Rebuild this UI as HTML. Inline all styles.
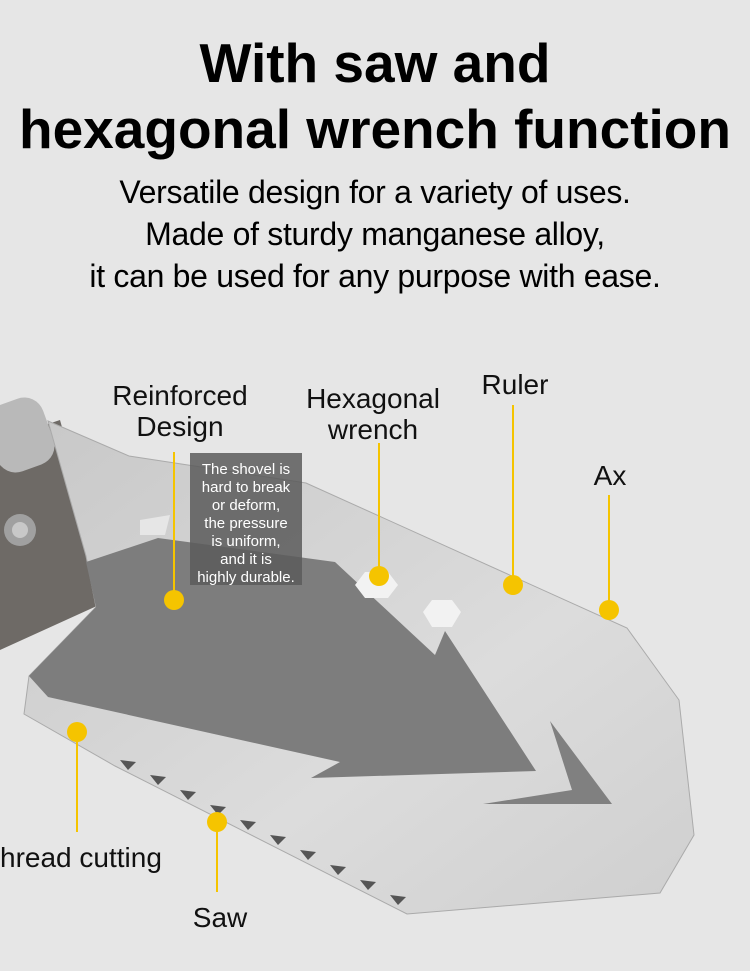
<!DOCTYPE html>
<html><head><meta charset="utf-8"><style>
body{margin:0;width:750px;height:971px;background:#e6e6e6;overflow:hidden;font-family:"Liberation Sans",sans-serif;position:relative}
.t{position:absolute;left:0;width:750px;text-align:center;color:#000;white-space:nowrap}
.l{position:absolute;font-size:28px;color:#111;text-align:center;line-height:31px;white-space:nowrap}
</style></head><body>
<div class="t" style="top:30px;font-size:55px;font-weight:bold;line-height:66px">With saw and<br>hexagonal wrench function</div>
<div class="t" style="top:171px;font-size:32px;line-height:42px;letter-spacing:-0.3px">Versatile design for a variety of uses.<br>Made of sturdy manganese alloy,<br>it can be used for any purpose with ease.</div>
<svg width="750" height="971" style="position:absolute;left:0;top:0">
<defs><linearGradient id="g" x1="0" y1="0" x2="1" y2="1"><stop offset="0" stop-color="#c8c8c8"/><stop offset=".6" stop-color="#dcdcdc"/><stop offset="1" stop-color="#cfcfcf"/></linearGradient></defs>
<polygon points="0,440 60,420 110,600 0,650" fill="#6e6a66"/>
<rect x="-10" y="400" width="60" height="70" rx="20" fill="#b9b9b9" transform="rotate(-20 20 435)"/>
<polygon points="48,421 129,456 306,483 627,628 679,700 694,835 660,893 407,914 115,766 24,714 29,676 96,607 86,556" fill="url(#g)" stroke="#aaa"/>
<polygon points="86,562 158,538 335,562 435,655 445,631 536,771 311,778 340,762 48,697 29,676 96,607" fill="#7d7d7d"/>
<polygon points="550,721 612,804 483,804 572,790" fill="#808080"/>
<polygon points="140,520 170,515 165,535 140,535" fill="#e6e6e6"/>
<polygon points="355,585 365,572 388,572 398,585 388,598 365,598" fill="#f2f2f2"/>
<polygon points="423,612 432,600 452,600 461,612 452,627 432,627" fill="#f2f2f2"/>
<circle cx="20" cy="530" r="16" fill="#a0a0a0"/><circle cx="20" cy="530" r="8" fill="#c8c8c8"/>
<g fill="#555">
<polygon points="120,760 128,770 136,762"/><polygon points="150,775 158,785 166,777"/><polygon points="180,790 188,800 196,792"/><polygon points="210,805 218,815 226,807"/><polygon points="240,820 248,830 256,822"/><polygon points="270,835 278,845 286,837"/><polygon points="300,850 308,860 316,852"/><polygon points="330,865 338,875 346,867"/><polygon points="360,880 368,890 376,882"/><polygon points="390,895 398,905 406,897"/>
</g>
<rect x="190" y="453" width="112" height="132" fill="#5a5a5a" opacity=".85"/>
<text fill="#fff" font-size="15" text-anchor="middle" font-family="Liberation Sans">
<tspan x="246" y="474">The shovel is</tspan><tspan x="246" y="492">hard to break</tspan><tspan x="246" y="510">or deform,</tspan><tspan x="246" y="528">the pressure</tspan><tspan x="246" y="546">is uniform,</tspan><tspan x="246" y="564">and it is</tspan><tspan x="246" y="582">highly durable.</tspan></text>
<g stroke="#f5c400" stroke-width="2"><line x1="174" y1="452" x2="174" y2="600"/><line x1="379" y1="443" x2="379" y2="576"/><line x1="513" y1="405" x2="513" y2="585"/><line x1="609" y1="495" x2="609" y2="610"/><line x1="77" y1="730" x2="77" y2="832"/><line x1="217" y1="820" x2="217" y2="892"/></g>
<g fill="#f5c400"><ellipse cx="174" cy="600" rx="10" ry="10"/><ellipse cx="379" cy="576" rx="10" ry="10"/><ellipse cx="513" cy="585" rx="10" ry="10"/><ellipse cx="609" cy="610" rx="10" ry="10"/><ellipse cx="77" cy="732" rx="10" ry="10"/><ellipse cx="217" cy="822" rx="10" ry="10"/></g>
</svg>
<div class="l" style="left:100px;top:380px;width:160px">Reinforced<br>Design</div>
<div class="l" style="left:293px;top:383px;width:160px">Hexagonal<br>wrench</div>
<div class="l" style="left:470px;top:369px;width:90px">Ruler</div>
<div class="l" style="left:580px;top:460px;width:60px">Ax</div>
<div class="l" style="left:0px;top:842px;text-align:left">hread cutting</div>
<div class="l" style="left:180px;top:902px;width:80px">Saw</div>
</body></html>
